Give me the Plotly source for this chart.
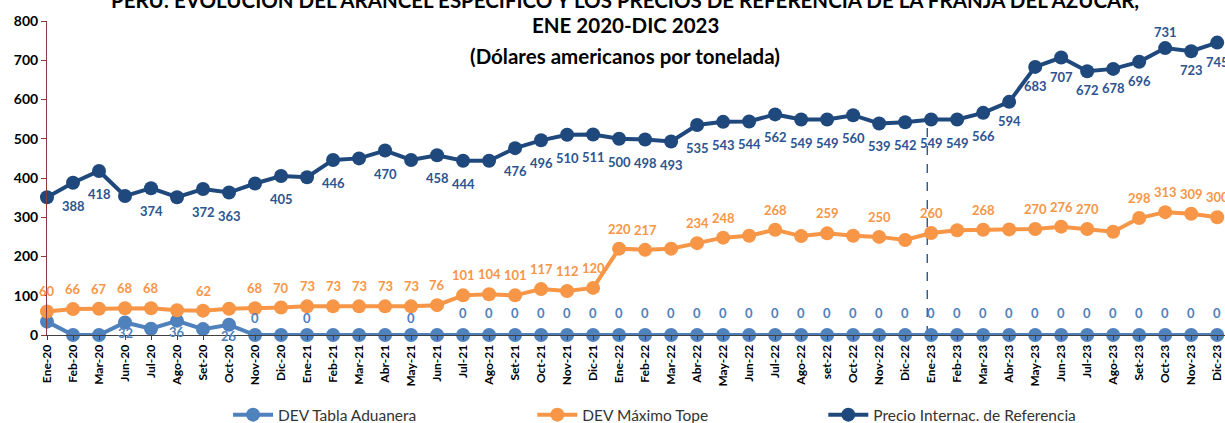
import plotly.graph_objects as go

categories = ["Ene-20", "Feb-20", "Mar-20", "Jun-20", "Jul-20", "Ago-20", "Set-20", "Oct-20", "Nov-20", "Dic-20",
              "Ene-21", "Feb-21", "Mar-21", "Abr-21", "May-21", "Jun-21", "Jul-21", "Ago-21", "Set-21", "Oct-21",
              "Nov-21", "Dic-21", "Ene-22", "Feb-22", "Mar-22", "Abr-22", "May-22", "Jun-22", "Jul-22", "Ago-22",
              "set-22", "Oct-22", "Nov-22", "Dic-22", "Ene-23", "Feb-23", "Mar-23", "Abr-23", "May-23", "Jun-23",
              "Jul-23", "Ago-23", "Set-23", "Oct-23", "Nov-23", "Dic-23"]

tabla_aduanera = [34, 0, 0, 32, 16, 36, 15, 26, 0, 0,
                  0, 0, 0, 0, 0, 0, 0, 0, 0, 0,
                  0, 0, 0, 0, 0, 0, 0, 0, 0, 0,
                  0, 0, 0, 0, 0, 0, 0, 0, 0, 0,
                  0, 0, 0, 0, 0, 0]

maximo_tope = [60, 66, 67, 68, 68, 63, 62, 67, 68, 70,
               73, 73, 73, 73, 73, 76, 101, 104, 101, 117,
               112, 120, 220, 217, 220, 234, 248, 253, 268, 252,
               259, 253, 250, 242, 260, 267, 268, 269, 270, 276,
               270, 263, 298, 313, 309, 300]

precio_ref = [351, 388, 418, 354, 374, 351, 372, 363, 386, 405,
              402, 446, 450, 470, 446, 458, 444, 444, 476, 496,
              510, 511, 500, 498, 493, 535, 543, 544, 562, 549,
              549, 560, 539, 542, 549, 549, 566, 594, 683, 707,
              672, 678, 696, 731, 723, 745]

# which points carry a visible data label
show_tabla = [False, False, False, True, False, True, False, True, True, False,
              True, False, False, False, True, False] + [True] * 30
show_tope = [True, True, True, True, True, False, True, False, True, True,
             True, True, True, True, True, True, True, True, True, True,
             True, True, True, True, False, True, True, False, True, False,
             True, False, True, False, True, False, True, False, True, True,
             True, False, True, True, True, True]
show_precio = [False, True, True, False, True, False, True, True, False, True,
               False, True, False, True, False, True, True, False] + [True] * 28

divider_category = "Ene-23"

C_LIGHT = "#4F81BD"
C_ORANGE = "#F79646"
C_DARK = "#1F497D"
C_DARK_LBL = "#2C5490"
FONT = "Lato"

x = list(range(len(categories)))

fig = go.Figure()
series = [
    ("DEV Tabla Aduanera", tabla_aduanera, C_LIGHT, "legend"),
    ("DEV Máximo Tope", maximo_tope, C_ORANGE, "legend2"),
    ("Precio Internac. de Referencia", precio_ref, C_DARK, "legend3"),
]
for name, vals, col, lg in series:
    fig.add_trace(go.Scatter(
        x=x, y=vals, name=name, mode="lines+markers",
        line=dict(color=col, width=4),
        marker=dict(color=col, size=14),
        cliponaxis=False, legend=lg,
    ))

annotations = []
lbl_font = dict(family=FONT, size=13, weight="bold")

for i, v in enumerate(tabla_aduanera):
    if not show_tabla[i]:
        continue
    if v > 0:
        ys = -11
    elif i in (8, 10, 14):
        ys = 17
    else:
        ys = 22
    annotations.append(dict(x=i, y=v, xref="x", yref="y", text=str(v), showarrow=False,
                            yshift=ys, font=dict(color=C_LIGHT, **lbl_font)))

for i, v in enumerate(maximo_tope):
    if not show_tope[i]:
        continue
    annotations.append(dict(x=i, y=v, xref="x", yref="y", text=str(v), showarrow=False,
                            yshift=20, font=dict(color=C_ORANGE, **lbl_font)))

for i, v in enumerate(precio_ref):
    if not show_precio[i]:
        continue
    if categories[i] == "Oct-23":
        ys = 16
    elif i >= 37:
        ys = -19
    else:
        ys = -23
    annotations.append(dict(x=i, y=v, xref="x", yref="y", text=str(v), showarrow=False,
                            yshift=ys, font=dict(color=C_DARK_LBL, **lbl_font)))

title_lines = [
    "PERÚ: EVOLUCIÓN DEL ARANCEL ESPECÍFICO Y LOS PRECIOS DE REFERENCIA DE LA FRANJA DEL AZÚCAR,",
    "ENE 2020-DIC 2023",
    "(Dólares americanos por tonelada)",
]
title_y = [1.067, 0.987, 0.8885]
for t, yy in zip(title_lines, title_y):
    annotations.append(dict(x=0.4907, y=yy, xref="paper", yref="paper", text=t, showarrow=False,
                            xanchor="center", yanchor="middle",
                            font=dict(family=FONT, size=20.5, color="black", weight="bold")))

div_x = categories.index(divider_category) - 0.15
fig.add_shape(type="line", xref="x", yref="y", x0=div_x, x1=div_x, y0=0, y1=560,
              line=dict(color=C_DARK, width=1.3, dash="dash"), layer="below")

leg_common = dict(orientation="h", y=-0.255, xanchor="left", yanchor="middle",
                  font=dict(family=FONT, size=15.5, color="#333333"),
                  itemwidth=40, bgcolor="rgba(0,0,0,0)")

fig.update_layout(
    width=1225, height=423,
    margin=dict(l=47, r=0, t=21, b=88, autoexpand=False),
    plot_bgcolor="white", paper_bgcolor="white",
    font=dict(family=FONT, color="black"),
    showlegend=True,
    legend=dict(x=0.1537, **leg_common),
    legend2=dict(x=0.412, **leg_common),
    legend3=dict(x=0.659, **leg_common),
    annotations=annotations,
    xaxis=dict(
        range=[0, 45.3], tickmode="array", tickvals=x, ticktext=categories,
        tickangle=-90, tickfont=dict(family=FONT, size=12, color="black", weight="bold"),
        showgrid=False, zeroline=False, showline=True, linecolor="#404040", linewidth=1,
        ticks="outside", ticklen=4, tickcolor="#404040", automargin=False,
    ),
    yaxis=dict(
        range=[0, 800], tickvals=[0, 100, 200, 300, 400, 500, 600, 700, 800],
        tickfont=dict(family=FONT, size=14, color="black", weight="bold"),
        showgrid=False, zeroline=False, showline=True, linecolor="#8B3A3A", linewidth=1,
        ticks="outside", ticklen=5, tickcolor="#8B3A3A", automargin=False,
    ),
)

fig.write_html(
    "out.html",
    config={"displayModeBar": False},
    post_script="document.body.style.margin='0px';document.body.style.overflow='hidden';",
)
